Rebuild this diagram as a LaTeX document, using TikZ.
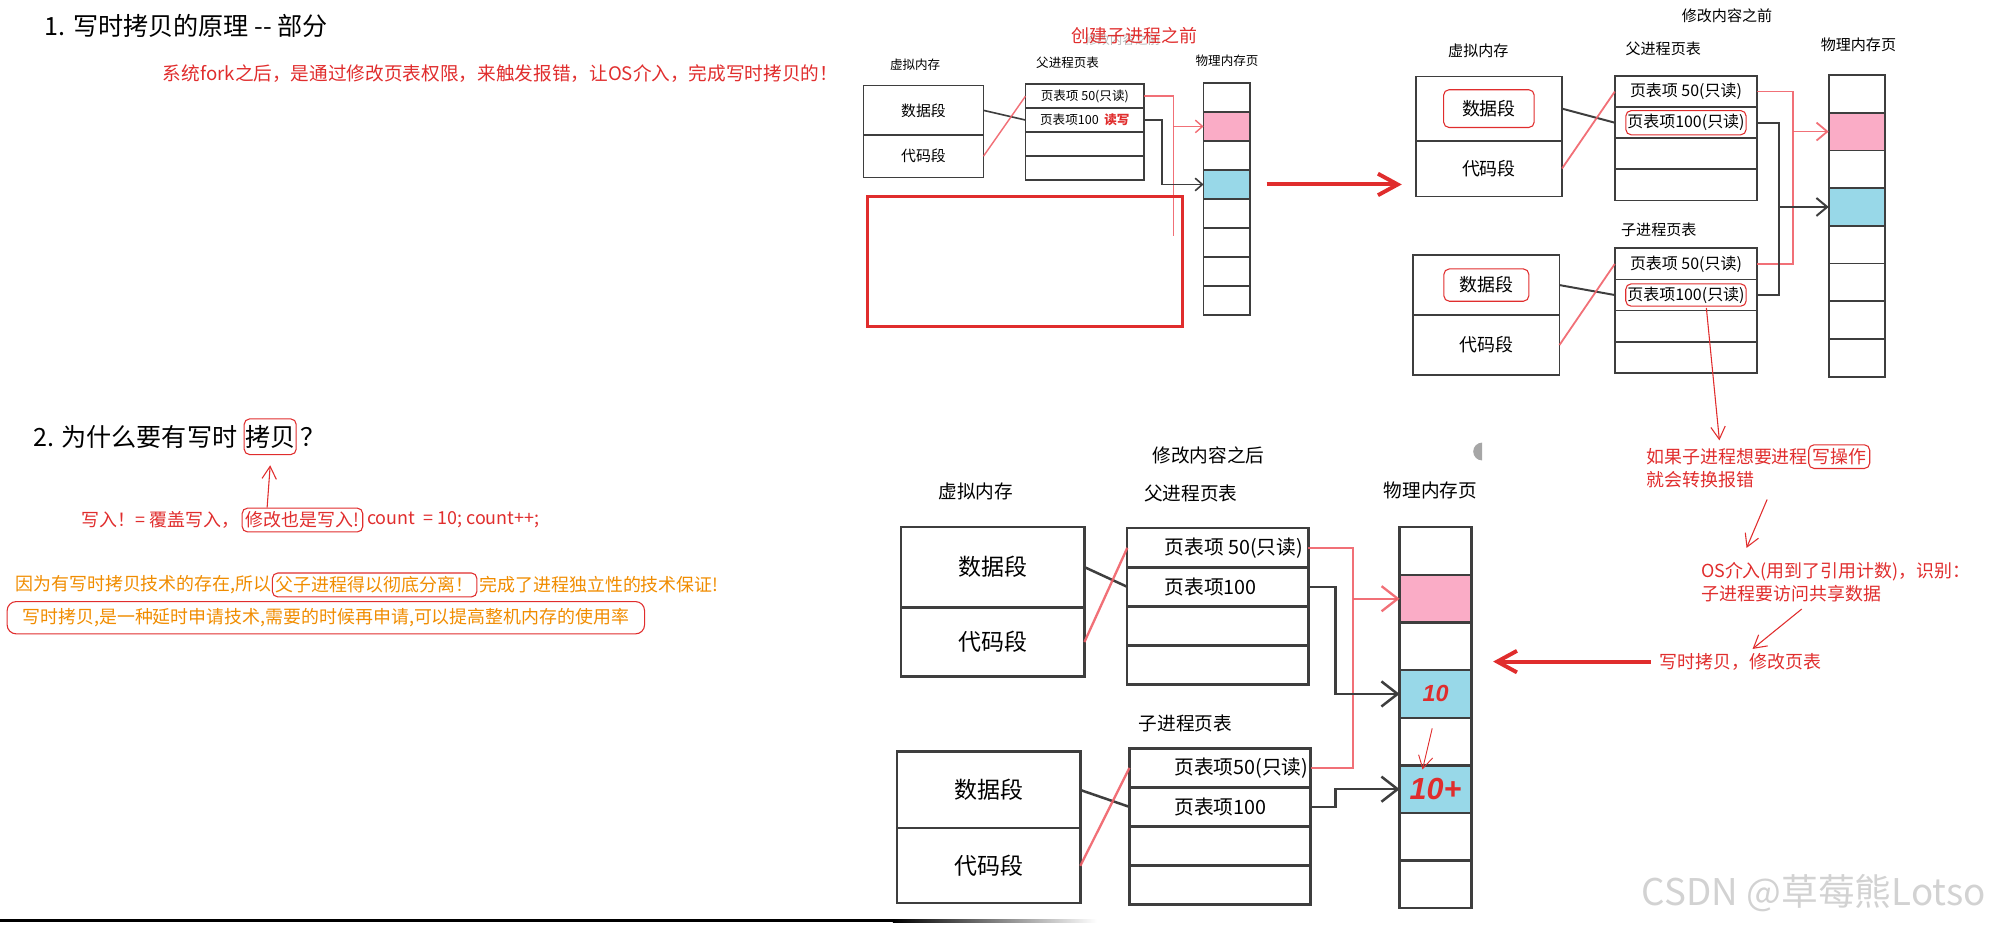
\documentclass[tikz,border=0pt]{standalone}
\usepackage{fontspec}
\setmainfont{Noto Sans CJK SC}
\newfontfamily\handnum{Liberation Sans}
\usetikzlibrary{positioning,calc,arrows.meta}

\definecolor{inkc}{RGB}{62,62,62}
\definecolor{annot}{RGB}{224,45,45}
\definecolor{linkred}{RGB}{240,96,104}
\definecolor{orangec}{RGB}{240,140,0}
\definecolor{pinkc}{RGB}{250,172,198}
\definecolor{bluec}{RGB}{152,216,232}

\newlength\pxl
\setlength\pxl{0.025cm}

\tikzset{
  seg/.style={draw=inkc, line width=1pt, inner sep=0pt, outer sep=0pt, anchor=north west},
  hlbox/.style={draw=annot, rounded corners=3pt, line width=0.6pt, inner sep=2pt},
  tie/.style={draw=inkc, line width=1.1pt},
  tiered/.style={draw=linkred, line width=1pt, opacity=0.9},
  note/.style={text=annot, font=\fontsize{10pt}{12.6pt}\selectfont, inner sep=0pt, anchor=west},
  memo/.style={note, text=orangec},
  handarrow/.style={draw=annot, line width=0.6pt, -{Straight Barb[length=7pt,width=8pt]}},
  bigarrow/.style={draw=annot, line width=2.2pt, -{Straight Barb[length=11pt,width=12pt]}},
}

\begin{document}
\begin{tikzpicture}[x=0.025cm, y=-0.025cm]
\useasboundingbox (0,0) rectangle (1568,730);

% section 1
\node[anchor=west, font=\fontsize{14pt}{16pt}\selectfont] (sec1) at (30,20) {1. 写时拷贝的原理 {-}{-} 部分};
\node[note, font=\fontsize{10.4pt}{12pt}\selectfont] (sec1note) at (127.5,57.5) {系统fork之后，是通过修改页表权限，来触发报错，让OS介入，完成写时拷贝的！};

% before fork
\begin{scope}[font=\fontsize{7pt}{8pt}\selectfont,
  seg/.append style={line width=0.8pt},
  vmseg/.style={seg, minimum width=94\pxl, font=\fontsize{8.3pt}{9pt}\selectfont},
  ptrow/.style={seg, minimum width=93\pxl, minimum height=18.75\pxl},
  tie/.append style={line width=0.9pt}, tiered/.append style={line width=0.8pt},
  >={Straight Barb[length=4pt,width=7pt]}]
\node[text=gray!55] (A-ghost) at (880,31) {修改内容之前};
\node[text=annot, font=\fontsize{10pt}{12pt}\selectfont] (A-head) at (889.5,28) {创建子进程之前};
\node (A-vmlbl) at (717.5,51) {虚拟内存};
\node (A-ptlbl) at (837,49.5) {父进程页表};
\node (A-pmlbl) at (962,47.5) {物理内存页};
\node[vmseg, minimum height=39\pxl] (A-data) at (677,67) {数据段};
\node[vmseg, minimum height=33\pxl, below=0pt of A-data] (A-code) {代码段};
\node[ptrow] (A-t1) at (804,66) {页表项 50(只读)};
\node[ptrow, below=0pt of A-t1] (A-t2) {页表项100\ \ \textcolor{annot}{\bfseries 读写}};
\node[ptrow, below=0pt of A-t2] (A-t3) {};
\node[ptrow, below=0pt of A-t3] (A-t4) {};
\foreach \c [count=\i] in {white,pinkc,white,bluec,white,white,white,white}
  \node[seg, fill=\c, minimum width=36.4\pxl, minimum height=22.75\pxl] (A-p\i) at (943.6,{65+(\i-1)*22.75}) {};
\coordinate (A-rx) at (920,185);
\coordinate (A-kx) at (910.8,0);
\draw[tie] (A-data.east) -- (A-t2.west);
\draw[tiered] (A-code.east) -- (A-t1.west);
\draw[tiered] (A-t1.east) -| (A-rx);
\draw[tiered,->] (A-p2.west -| A-rx) -- (A-p2.west);
\draw[tie,->] (A-t2.east) -| (A-p4.west -| A-kx) -- (A-p4.west);
\draw[annot, line width=1.3pt] (680,154) rectangle (927,256);
\end{scope}

% before writing
\begin{scope}[font=\fontsize{8.4pt}{9.5pt}\selectfont,
  vmseg/.style={seg, minimum width=114.6\pxl, font=\fontsize{10pt}{11pt}\selectfont},
  ptrow/.style={seg, minimum width=111.6\pxl, minimum height=24.4\pxl, font=\fontsize{8.9pt}{10pt}\selectfont},
  >={Straight Barb[length=6pt,width=10pt]}]
\node (B-head) at (1354,12) {修改内容之前};
\node (B-vmlbl) at (1159,40) {虚拟内存};
\node (B-ptlbl) at (1304,38) {父进程页表};
\node (B-pmlbl) at (1457,35) {物理内存页};
\node (B-cptlbl) at (1300.5,180.3) {子进程页表};
\node[vmseg, minimum height=50.3\pxl] (B-data) at (1110,60) {数据段};
\node[vmseg, minimum height=43.7\pxl, below=0pt of B-data] (B-code) {代码段};
\node[vmseg, minimum height=47\pxl] (B-cdata) at (1108,200) {数据段};
\node[vmseg, minimum height=47\pxl, below=0pt of B-cdata] (B-ccode) {代码段};
\node[ptrow] (B-t1) at (1266,59.6) {页表项 50(只读)};
\node[ptrow, below=0pt of B-t1] (B-t2) {页表项100(只读)};
\node[ptrow, below=0pt of B-t2] (B-t3) {};
\node[ptrow, below=0pt of B-t3] (B-t4) {};
\node[ptrow] (B-c1) at (1266,194.7) {页表项 50(只读)};
\node[ptrow, below=0pt of B-c1] (B-c2) {页表项100(只读)};
\node[ptrow, below=0pt of B-c2] (B-c3) {};
\node[ptrow, below=0pt of B-c3] (B-c4) {};
\foreach \c [count=\i] in {white,pinkc,white,bluec,white,white,white,white}
  \node[seg, fill=\c, minimum width=44.3\pxl, minimum height=29.56\pxl] (B-p\i) at (1433.7,{58.8+(\i-1)*29.56}) {};
\node[hlbox, minimum width=71\pxl, minimum height=29.6\pxl] (B-hl1) at (B-data) {};
\node[hlbox, minimum width=94.3\pxl, minimum height=19\pxl] (B-hl2) at (B-t2) {};
\node[hlbox, minimum width=66.6\pxl, minimum height=25.3\pxl] (B-hl3) at (B-cdata) {};
\node[hlbox, minimum width=94.4\pxl, minimum height=17.5\pxl] (B-hl4) at (B-c2) {};
\coordinate (B-rx) at (1406,0);
\coordinate (B-kx) at (1394.8,0);
\draw[tie] (B-data.east) -- (B-t2.west);
\draw[tiered] (B-code.east) -- (B-t1.west);
\draw[tie] (B-cdata.east) -- (B-c2.west);
\draw[tiered] (B-ccode.east) -- (B-c1.west);
\draw[tiered] (B-t1.east) -| (B-c1.east -| B-rx) -- (B-c1.east);
\draw[tiered,->] (B-p2.west -| B-rx) -- (B-p2.west);
\draw[tie] (B-t2.east) -| (B-c2.east -| B-kx) -- (B-c2.east);
\draw[tie,->] (B-p4.west -| B-kx) -- (B-p4.west);
\end{scope}

\draw[bigarrow] ($(A-p4.east)+(13,0)$) -- ($(A-p4.east -| B-code.west)+(-11,0)$);

% after writing
\begin{scope}[font=\fontsize{10.4pt}{12pt}\selectfont,
  seg/.append style={line width=1.3pt},
  vmseg/.style={seg, minimum width=144\pxl, font=\fontsize{12.8pt}{14pt}\selectfont},
  ptrow/.style={seg, minimum width=142\pxl, minimum height=30.6\pxl},
  rtext/.style={inner sep=0pt, font=\fontsize{11pt}{13pt}\selectfont},
  tie/.append style={line width=1.4pt}, tiered/.append style={line width=1.3pt},
  >={Straight Barb[length=9pt,width=14pt]}]
\node (C-head) at (947.5,356.7) {修改内容之后};
\node (C-vmlbl) at (765,385.5) {虚拟内存};
\node (C-ptlbl) at (933.5,386.8) {父进程页表};
\node (C-pmlbl) at (1121.5,384.2) {物理内存页};
\node (C-cptlbl) at (929.4,567.1) {子进程页表};
\node[vmseg, minimum height=63.2\pxl] (C-data) at (706.2,413) {数据段};
\node[vmseg, minimum height=54.3\pxl, below=0pt of C-data] (C-code) {代码段};
\node[vmseg, minimum height=60.1\pxl] (C-cdata) at (703,589.3) {数据段};
\node[vmseg, minimum height=58.8\pxl, below=0pt of C-cdata] (C-ccode) {代码段};
\node[ptrow] (C-t1) at (883.8,414.2) {};
\node[ptrow, below=0pt of C-t1] (C-t2) {};
\node[ptrow, below=0pt of C-t2] (C-t3) {};
\node[ptrow, below=0pt of C-t3] (C-t4) {};
\node[ptrow] (C-c1) at (885.5,586.7) {};
\node[ptrow, below=0pt of C-c1] (C-c2) {};
\node[ptrow, below=0pt of C-c2] (C-c3) {};
\node[ptrow, below=0pt of C-c3] (C-c4) {};
\node[rtext, right=29\pxl of C-t1.west] (C-t1x) {页表项 50(只读)};
\node[rtext, right=29\pxl of C-t2.west] (C-t2x) {页表项100};
\node[rtext, right=35\pxl of C-c1.west] (C-c1x) {页表项50(只读)};
\node[rtext, right=35\pxl of C-c2.west] (C-c2x) {页表项100};
\foreach \c [count=\i] in {white,pinkc,white,bluec,white,bluec,white,white}
  \node[seg, fill=\c, minimum width=56.3\pxl, minimum height=37.33\pxl] (C-p\i) at (1097.3,{413.4+(\i-1)*37.33}) {};
\node[text=annot, font=\handnum\bfseries\itshape\fontsize{13pt}{14pt}\selectfont] (C-ten) at (C-p4) {10};
\node[text=annot, font=\handnum\bfseries\itshape\fontsize{17pt}{18pt}\selectfont] (C-tenplus) at (C-p6) {10+};
\coordinate (C-rx) at (1060.5,0);
\coordinate (C-kx) at (1047,0);
\draw[tie] (C-data.east) -- (C-t2.west);
\draw[tiered] (C-code.east) -- (C-t1.west);
\draw[tie] (C-cdata.east) -- (C-c2.west);
\draw[tiered] (C-ccode.east) -- (C-c1.west);
\draw[tiered] (C-t1.east) -| (C-c1.east -| C-rx) -- (C-c1.east);
\draw[tiered,->] (C-p2.west -| C-rx) -- (C-p2.west);
\draw[tie,->] (C-t2.east) -| (C-p4.west -| C-kx) -- (C-p4.west);
\draw[tie,->] (C-c2.east) -| (C-p6.west -| C-kx) -- (C-p6.west);
\draw[handarrow, line width=0.5pt] ($(C-p4.south)+(-2.6,8.3)$) -- ($(C-p6.north)+(-10.2,3.2)$);
\fill[gray!70] (1162,361) arc[start angle=90, end angle=270, radius=7] -- cycle;
\end{scope}

% section 2
\node[anchor=west, font=\fontsize{14pt}{16pt}\selectfont] (t2a) at (21,342.4) {2. 为什么要有写时};
\node[hlbox, inner xsep=0.5pt, inner ysep=3.5pt, font=\fontsize{14pt}{16pt}\selectfont, right=0pt of t2a] (t2b) {拷贝};
\node[font=\fontsize{14pt}{16pt}\selectfont, inner sep=0pt, right=2pt of t2b] (t2c) {？};
\node[note] (r1a) at (64,407.7) {写入！= 覆盖写入，};
\node[note, hlbox, right=1pt of r1a] (r1b) {修改也是写入!};
\node[note, right=2pt of r1b] (r1c) {count\ \ = 10; count++;};
\draw[handarrow] ($(r1b.north west)+(20,0)$) -- ($(t2b.south)+(0,8)$);
\node[memo] (o1a) at (11.8,458.6) {因为有写时拷贝技术的存在,所以};
\node[memo, hlbox, right=0pt of o1a] (o1b) {父子进程得以彻底分离！};
\node[memo, right=1pt of o1b] (o1c) {完成了进程独立性的技术保证!};
\node[memo, hlbox, rounded corners=5pt, minimum width=499.7\pxl, minimum height=25.3\pxl] (o2) at (5.2,484.3) {写时拷贝,是一种延时申请技术,需要的时候再申请,可以提高整机内存的使用率};

% notes on the right
\node[note] (n1a) at (1290.5,358) {如果子进程想要进程};
\node[note, hlbox, right=0pt of n1a] (n1b) {写操作};
\node[note] (n1c) at (1290.5,375.8) {就会转换报错};
\node[note] (n2a) at (1333.3,448.2) {OS介入(用到了引用计数)，识别：};
\node[note] (n2b) at (1334,465.7) {子进程要访问共享数据};
\node[note] (n3) at (1301,518.7) {写时拷贝，修改页表};
\draw[handarrow] ($(B-hl4.south)+(16,1)$) -- ($(n1a.north west)+(57.5,-6)$);
\draw[handarrow] ($(n1c.south east)+(10,9)$) -- ($(n2a.north west)+(36,-11)$);
\draw[handarrow] ($(n2b.south west)+(78.5,5)$) -- ($(n3.north west)+(73,-3)$);
\draw[bigarrow] ($(n3.west)+(-7,0)$) -- ($(n3.west -| C-p4.east)+(17,0)$);

% bottom rule and mark
\fill[black] (0,720.5) rectangle (700,723);
\shade[left color=black, right color=white] (700,720.5) rectangle (860,723);
\node[text=gray!35, font=\fontsize{20.5pt}{22pt}\selectfont] (mark) at (1422,700) {CSDN @草莓熊Lotso};
\end{tikzpicture}
\end{document}
